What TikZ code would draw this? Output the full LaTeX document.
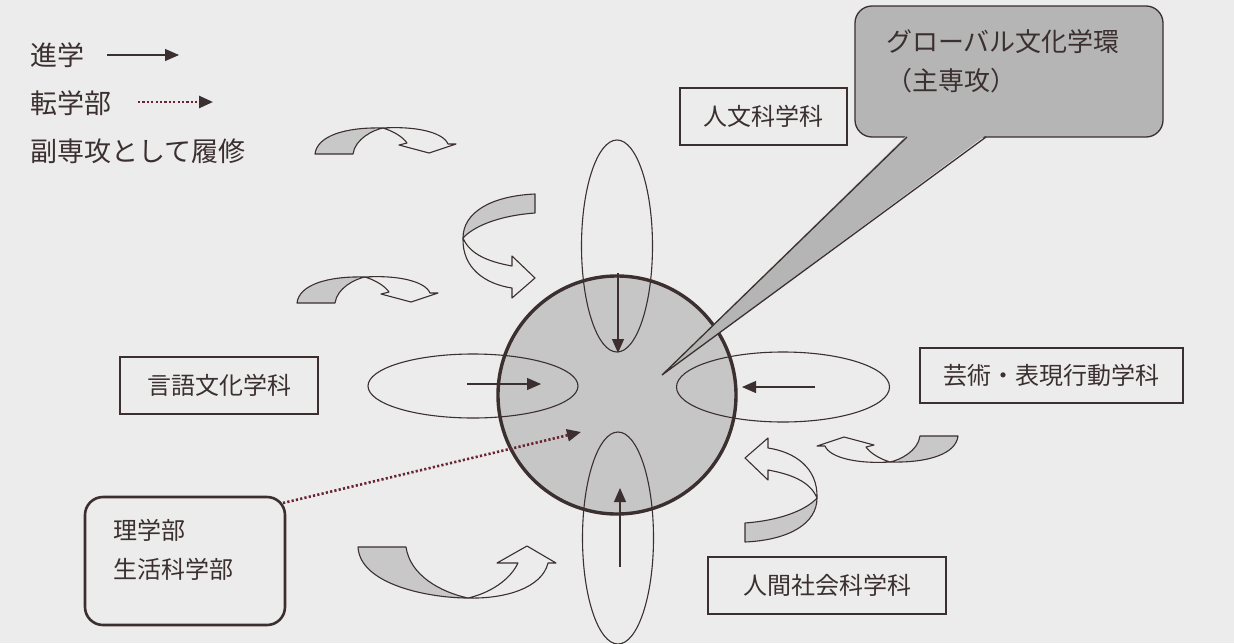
\documentclass[tikz,border=0pt]{standalone}
\usepackage{fontspec}
\newfontfamily\jp{Noto Sans CJK JP}
\usetikzlibrary{shapes.geometric,arrows.meta}
\definecolor{ink}{HTML}{3B2F2F}
\definecolor{paper}{HTML}{ECECEC}
\definecolor{band}{HTML}{C8C8C8}
\definecolor{corefill}{HTML}{C6C6C6}
\definecolor{callfill}{HTML}{B5B5B5}
\definecolor{dotred}{HTML}{6A2434}
\tikzset{
  lbl/.style={font=\jp\fontsize{24}{28}\selectfont, text=ink, inner sep=0pt},
  leg/.style={font=\jp\fontsize{27}{30}\selectfont, text=ink, inner sep=0pt, anchor=west},
  deptbox/.style={draw=ink, line width=1.3pt, lbl, minimum height=57pt},
  oval/.style={ellipse, draw=ink, line width=1.1pt, inner sep=0pt},
  solidarr/.style={draw=ink, line width=1.2pt, -{Triangle[length=14pt,width=12pt]}},
  dotarr/.style={draw=dotred, line width=2.6pt, dash pattern=on 2.2pt off 2.2pt,
     -{Triangle[length=14pt,width=12pt,fill=ink,color=ink]}},
  bandback/.style={draw=ink, fill=band, line width=1.1pt, line join=round},
  bandfront/.style={draw=ink, fill=paper, line width=1.1pt, line join=round},
}
\newcommand\bandArrowA{%
  \filldraw[bandback] (0,0) .. controls (2,-18) and (30,-27) .. (68,-26)
     .. controls (58,-24) and (40,-15) .. (38,0) -- cycle;
  \filldraw[bandfront] (68,-26) .. controls (100,-28) and (128,-22) .. (133,-10)
     -- (141,-10) -- (114,-1) -- (84,-9) -- (92,-11)
     .. controls (88,-17) and (78,-23) .. (68,-26) -- cycle;}
\newcommand\bandArrowB{%
  \filldraw[bandback] (535,194) .. controls (490,196) and (463,213) .. (463,238)
     .. controls (472,228) and (495,216) .. (535,213) -- cycle;
  \filldraw[bandfront] (463,238) .. controls (462,268) and (485,284) .. (512,288)
     -- (512,298) -- (535,278) -- (512,256) -- (512,266)
     .. controls (490,262) and (470,255) .. (463,238) -- cycle;}
\begin{document}
\begin{tikzpicture}[x=1pt,y=-1pt]
\fill[paper] (0,0) rectangle (1234,643);
\useasboundingbox (0,0) rectangle (1234,643);

% legend
\node[leg] (l1) at (30,55) {進学};
\node[leg] (l2) at (30,103) {転学部};
\node[leg] (l3) at (30,151) {副専攻として履修};
\coordinate (l1a) at (107,55); \coordinate (l1b) at (179,55);
\coordinate (l2a) at (138,102); \coordinate (l2b) at (213,102);
\draw[solidarr] (l1a) -- (l1b);
\draw[dotarr] (l2a) -- (l2b);

% core circle and ovals
\node[circle, draw=ink, fill=corefill, line width=3.4pt, minimum size=238pt, inner sep=0pt] (core) at (617,395) {};
\node[oval, minimum width=71pt, minimum height=212pt] (eT) at (617,246) {};
\node[oval, minimum width=71pt, minimum height=212pt] (eB) at (618,538) {};
\node[oval, minimum width=210pt, minimum height=64pt] (eL) at (473,386) {};
\node[oval, minimum width=213pt, minimum height=70pt] (eR) at (783,387) {};
\coordinate (tA) at (618,273); \coordinate (tB) at (618,353);
\coordinate (bA) at (620,567); \coordinate (bB) at (620,488);
\coordinate (lA) at (467,384); \coordinate (lB) at (541,384);
\coordinate (rA) at (815,387); \coordinate (rB) at (742,387);
\draw[solidarr] (tA) -- (tB);
\draw[solidarr] (bA) -- (bB);
\draw[solidarr] (lA) -- (lB);
\draw[solidarr] (rA) -- (rB);

% department boxes
\node[deptbox, minimum width=167pt] (jinbun) at (763.5,116.5) {人文科学科};
\node[deptbox, minimum width=198pt] (gengo) at (219,385.5) {言語文化学科};
\node[deptbox, minimum width=263pt, minimum height=55pt] (geijutsu) at (1051.5,375.5) {芸術・表現行動学科};
\node[deptbox, minimum width=238pt] (ningen) at (827,585.5) {人間社会科学科};

% science faculties box
\node[draw=ink, line width=2.6pt, rounded corners=18pt, minimum width=200pt, minimum height=128pt, inner sep=0pt] (rika) at (185,561) {};
\node[lbl, anchor=north west, align=left, font=\jp\fontsize{24}{39}\selectfont] (rikatext) at (113,519) {理学部\\生活科学部};
\coordinate (dA) at (283,503); \coordinate (dB) at (581,432);
\draw[dotarr] (dA) -- (dB);

% curved (ribbon) arrows
\begin{scope}[shift={(315,154)}]\bandArrowA\end{scope}
\begin{scope}[shift={(297,303)}]\bandArrowA\end{scope}
\begin{scope}[shift={(958,436)},rotate=180]\bandArrowA\end{scope}
\bandArrowB
\begin{scope}[shift={(1280,736)},rotate=180]\bandArrowB\end{scope}
\filldraw[bandback] (358,547) .. controls (360,585) and (430,598) .. (468,598)
   .. controls (440,592) and (410,575) .. (406,547) -- cycle;
\filldraw[bandfront] (468,598) .. controls (505,599) and (542,588) .. (548,563)
   -- (556,563) -- (527,546) -- (497,563) -- (518,563)
   .. controls (510,580) and (490,593) .. (468,598) -- cycle;

% callout
\node[draw=ink, fill=callfill, line width=1.3pt, rounded corners=17pt, minimum width=308pt, minimum height=131pt, inner sep=0pt] (callout) at (1009,71.5) {};
\fill[callfill] (907,135) -- (662,375) -- (986,135) -- cycle;
\coordinate (ptip) at (662,375);
\draw[ink, line width=1.3pt, line join=miter] (907,137) -- (ptip) -- (986,137);
\node[anchor=north west, align=left, inner sep=0pt, text=ink, font=\jp\fontsize{26}{39}\selectfont] (calltext) at (886,29) {グローバル文化学環\\（主専攻）};
\end{tikzpicture}
\end{document}
